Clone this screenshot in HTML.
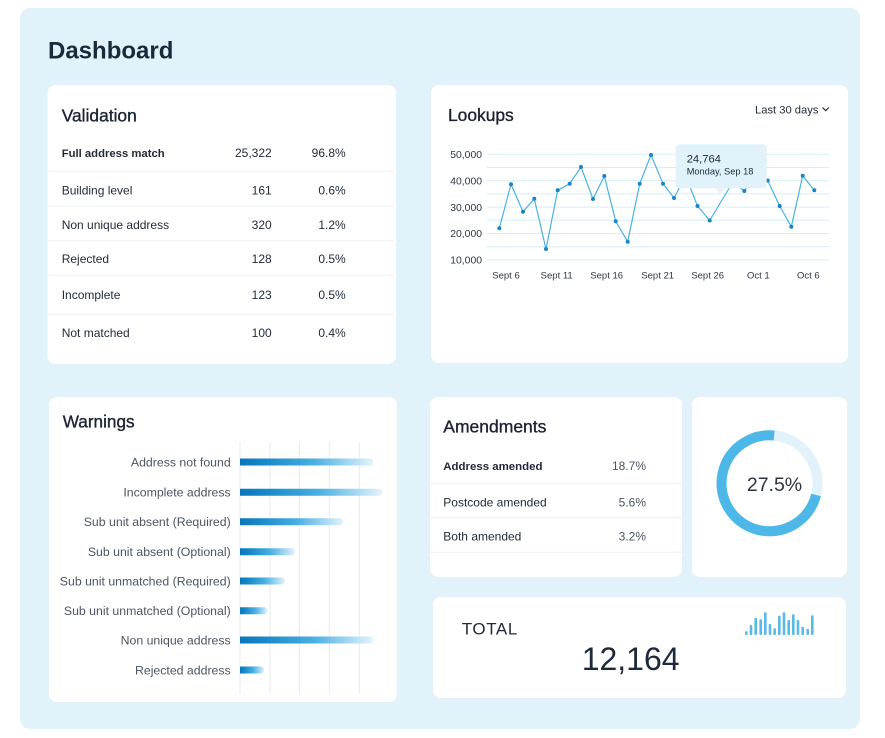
<!DOCTYPE html>
<html><head><meta charset="utf-8"><style>
html,body{margin:0;padding:0;background:#fff;width:885px;height:738px;overflow:hidden}
svg{display:block}
text{font-family:"Liberation Sans",Arial,sans-serif}
</style></head><body>
<svg width="885" height="738" viewBox="0 0 885 738" xmlns="http://www.w3.org/2000/svg">
<defs>
<linearGradient id="bg" x1="0" y1="0" x2="1" y2="0">
<stop offset="0" stop-color="#0a76ba"/>
<stop offset="0.18" stop-color="#1688c8"/>
<stop offset="0.55" stop-color="#48afe1"/>
<stop offset="1" stop-color="#e4f4fc"/>
</linearGradient>
</defs>
<rect x="0" y="0" width="885" height="738" fill="#ffffff"/>
<rect x="20" y="8" width="840" height="721" rx="10" fill="#e1f2fb"/>
<text x="48" y="58.6" font-size="24" font-weight="bold" fill="#1b2a3b">Dashboard</text>

<!-- Cards -->
<rect x="47.5" y="85" width="348.5" height="279" rx="8" fill="#fff"/>
<rect x="431" y="85" width="417" height="278" rx="8" fill="#fff"/>
<rect x="49" y="397" width="348" height="305" rx="8" fill="#fff"/>
<rect x="430" y="397" width="252" height="180" rx="8" fill="#fff"/>
<rect x="692" y="397" width="155" height="180" rx="8" fill="#fff"/>
<rect x="433" y="597" width="413" height="101" rx="8" fill="#fff"/>

<!-- Validation -->
<text x="61.7" y="121.5" font-size="17.4" fill="#1a2332" stroke="#1a2332" stroke-width="0.35">Validation</text>
<g stroke="#eef1f4" stroke-width="1">
<line x1="47.5" y1="171.3" x2="394" y2="171.3"/>
<line x1="47.5" y1="206" x2="394" y2="206"/>
<line x1="47.5" y1="240.7" x2="394" y2="240.7"/>
<line x1="47.5" y1="275.3" x2="394" y2="275.3"/>
<line x1="47.5" y1="314.3" x2="394" y2="314.3"/>
</g>
<g font-size="12" fill="#1f2937">
<text x="61.7" y="157" font-size="11.3" font-weight="bold">Full address match</text>
<text x="271.7" y="157" text-anchor="end">25,322</text>
<text x="345.7" y="157" text-anchor="end">96.8%</text>
<text x="61.7" y="194.5">Building level</text>
<text x="271.7" y="194.5" text-anchor="end">161</text>
<text x="345.7" y="194.5" text-anchor="end">0.6%</text>
<text x="61.7" y="228.8">Non unique address</text>
<text x="271.7" y="228.8" text-anchor="end">320</text>
<text x="345.7" y="228.8" text-anchor="end">1.2%</text>
<text x="61.7" y="263">Rejected</text>
<text x="271.7" y="263" text-anchor="end">128</text>
<text x="345.7" y="263" text-anchor="end">0.5%</text>
<text x="61.7" y="298.8">Incomplete</text>
<text x="271.7" y="298.8" text-anchor="end">123</text>
<text x="345.7" y="298.8" text-anchor="end">0.5%</text>
<text x="61.7" y="336.8">Not matched</text>
<text x="271.7" y="336.8" text-anchor="end">100</text>
<text x="345.7" y="336.8" text-anchor="end">0.4%</text>
</g>

<!-- Lookups -->
<text x="448" y="121" font-size="17.4" fill="#1a2332" stroke="#1a2332" stroke-width="0.35">Lookups</text>
<text x="755" y="113.3" font-size="11.2" fill="#1f2937">Last 30 days</text>
<polyline points="822.5,107.5 825.7,110.7 828.9,107.5" fill="none" stroke="#1f2937" stroke-width="1.1"/>
<g stroke="#d4edf6" stroke-width="1">
<line x1="487" y1="154.3" x2="829" y2="154.3"/>
<line x1="487" y1="167.5" x2="829" y2="167.5"/>
<line x1="487" y1="180.7" x2="829" y2="180.7"/>
<line x1="487" y1="193.9" x2="829" y2="193.9"/>
<line x1="487" y1="207.1" x2="829" y2="207.1"/>
<line x1="487" y1="220.3" x2="829" y2="220.3"/>
<line x1="487" y1="233.5" x2="829" y2="233.5"/>
<line x1="487" y1="246.7" x2="829" y2="246.7"/>
<line x1="487" y1="259.9" x2="829" y2="259.9"/>
</g>
<g font-size="10.4" fill="#2d3748" text-anchor="end">
<text x="482" y="158">50,000</text>
<text x="482" y="184.7">40,000</text>
<text x="482" y="211">30,000</text>
<text x="482" y="237">20,000</text>
<text x="482" y="263.4">10,000</text>
</g>
<g font-size="9.5" fill="#2d3748" text-anchor="middle">
<text x="506" y="278.4">Sept 6</text>
<text x="556.7" y="278.4">Sept 11</text>
<text x="606.7" y="278.4">Sept 16</text>
<text x="657.7" y="278.4">Sept 21</text>
<text x="707.7" y="278.4">Sept 26</text>
<text x="758.3" y="278.4">Oct 1</text>
<text x="808.3" y="278.4">Oct 6</text>
</g>
<polyline fill="none" stroke="#4ab3e2" stroke-width="1.2" stroke-linejoin="round" points="499.3,228.3 511,184.3 523,211.7 534.3,198.7 546,249 557.7,190.3 569.7,183.7 581,167 593,199 604.3,176 615.7,221.3 627.7,241.7 639.7,183.7 651,155 663,183.7 674,198 685.6,176 697.5,206 709.7,220.5 732.9,182 744.3,191 755.9,174 767.7,180.5 779.7,206 791.3,226.7 802.7,175.7 814.3,190.3"/>
<g fill="#1985c3">
<circle cx="499.3" cy="228.3" r="2"/><circle cx="511" cy="184.3" r="2"/><circle cx="523" cy="211.7" r="2"/><circle cx="534.3" cy="198.7" r="2"/><circle cx="546" cy="249" r="2"/><circle cx="557.7" cy="190.3" r="2"/><circle cx="569.7" cy="183.7" r="2"/><circle cx="581" cy="167" r="2"/><circle cx="593" cy="199" r="2"/><circle cx="604.3" cy="176" r="2"/><circle cx="615.7" cy="221.3" r="2"/><circle cx="627.7" cy="241.7" r="2"/><circle cx="639.7" cy="183.7" r="2"/><circle cx="651" cy="155" r="2"/><circle cx="663" cy="183.7" r="2"/><circle cx="674" cy="198" r="2"/><circle cx="697.5" cy="206" r="2"/><circle cx="709.7" cy="220.5" r="2"/><circle cx="744.3" cy="191" r="2"/><circle cx="767.7" cy="180.5" r="2"/><circle cx="779.7" cy="206" r="2"/><circle cx="791.3" cy="226.7" r="2"/><circle cx="802.7" cy="175.7" r="2"/><circle cx="814.3" cy="190.3" r="2"/>
</g>
<!-- tooltip -->
<rect x="675.7" y="144.3" width="91" height="44" rx="4" fill="#e1f2fb"/>
<polygon points="715,188.2 725,188.2 720,193.5" fill="#e1f2fb"/>
<text x="686.7" y="162.3" font-size="11.2" fill="#1f2937">24,764</text>
<text x="686.7" y="174.3" font-size="9.25" fill="#1f2937">Monday, Sep 18</text>

<!-- Warnings -->
<text x="62.7" y="427.3" font-size="17.2" fill="#1a2332" stroke="#1a2332" stroke-width="0.35">Warnings</text>
<g stroke="#e8eaed" stroke-width="1">
<line x1="240" y1="441.7" x2="240" y2="694"/>
<line x1="270" y1="441.7" x2="270" y2="694"/>
<line x1="299.3" y1="441.7" x2="299.3" y2="694"/>
<line x1="329.3" y1="441.7" x2="329.3" y2="694"/>
<line x1="359.3" y1="441.7" x2="359.3" y2="694"/>
</g>
<g fill="url(#bg)">
<path d="M240,458.5 H369.8 A3.5,3.5 0 0 1 369.8,465.5 H240 Z"/>
<path d="M240,488.8 H378.8 A3.5,3.5 0 0 1 378.8,495.8 H240 Z"/>
<path d="M240,518.2 H339.8 A3.5,3.5 0 0 1 339.8,525.2 H240 Z"/>
<path d="M240,548.2 H291.5 A3.5,3.5 0 0 1 291.5,555.2 H240 Z"/>
<path d="M240,577.5 H281.5 A3.5,3.5 0 0 1 281.5,584.5 H240 Z"/>
<path d="M240,607.2 H264.2 A3.5,3.5 0 0 1 264.2,614.2 H240 Z"/>
<path d="M240,636.5 H369.8 A3.5,3.5 0 0 1 369.8,643.5 H240 Z"/>
<path d="M240,666.5 H260.8 A3.5,3.5 0 0 1 260.8,673.5 H240 Z"/>
</g>
<g font-size="12.3" fill="#4b5563" text-anchor="end">
<text x="230.7" y="466.3">Address not found</text>
<text x="230.7" y="496.6">Incomplete address</text>
<text x="230.7" y="526">Sub unit absent (Required)</text>
<text x="230.7" y="556">Sub unit absent (Optional)</text>
<text x="230.7" y="585.3">Sub unit unmatched (Required)</text>
<text x="230.7" y="615">Sub unit unmatched (Optional)</text>
<text x="230.7" y="644.3">Non unique address</text>
<text x="230.7" y="674.3">Rejected address</text>
</g>

<!-- Amendments -->
<text x="443.3" y="432.7" font-size="17.5" fill="#1a2332" stroke="#1a2332" stroke-width="0.35">Amendments</text>
<g stroke="#eef1f4" stroke-width="1">
<line x1="430" y1="483.3" x2="682" y2="483.3"/>
<line x1="430" y1="517.7" x2="682" y2="517.7"/>
<line x1="430" y1="552.3" x2="682" y2="552.3"/>
</g>
<text x="443.3" y="470" font-size="11.45" font-weight="bold" fill="#1f2937">Address amended</text>
<text x="443.3" y="506.6" font-size="12" fill="#1f2937">Postcode amended</text>
<text x="443.3" y="540.3" font-size="12" fill="#1f2937">Both amended</text>
<g font-size="12" fill="#4b5563" text-anchor="end">
<text x="646" y="470">18.7%</text>
<text x="646" y="506.6">5.6%</text>
<text x="646" y="540.3">3.2%</text>
</g>

<!-- Donut -->
<circle cx="769.5" cy="483.3" r="48" fill="none" stroke="#e1f2fb" stroke-width="10"/>
<circle cx="769.5" cy="483.3" r="48" fill="none" stroke="#4db8e8" stroke-width="10" stroke-dasharray="218.7 400" transform="rotate(14 769.5 483.3)"/>
<text x="774.5" y="491" font-size="19.5" fill="#2d3440" text-anchor="middle">27.5%</text>

<!-- Total -->
<text x="461.7" y="634.3" font-size="17" letter-spacing="0.6" fill="#1e2939">TOTAL</text>
<text x="581.7" y="670" font-size="32" fill="#1e2939">12,164</text>
<g fill="#5ab9e6">
<rect x="745" y="631.3" width="2.6" height="3.7" rx="1"/>
<rect x="749.7" y="625" width="2.6" height="10" rx="1"/>
<rect x="754.4" y="617.7" width="2.6" height="17.3" rx="1"/>
<rect x="759.4" y="619.3" width="2.6" height="15.7" rx="1"/>
<rect x="764" y="612.3" width="2.6" height="22.7" rx="1"/>
<rect x="768.7" y="624" width="2.6" height="11" rx="1"/>
<rect x="773.4" y="628.3" width="2.6" height="6.7" rx="1"/>
<rect x="778" y="615.7" width="2.6" height="19.3" rx="1"/>
<rect x="782.7" y="612.3" width="2.6" height="22.7" rx="1"/>
<rect x="787.4" y="620" width="2.6" height="15" rx="1"/>
<rect x="792" y="614.3" width="2.6" height="20.7" rx="1"/>
<rect x="796.7" y="620" width="2.6" height="15" rx="1"/>
<rect x="801.4" y="626.7" width="2.6" height="8.3" rx="1"/>
<rect x="806.4" y="628.7" width="2.6" height="6.3" rx="1"/>
<rect x="811" y="615.3" width="2.6" height="19.7" rx="1"/>
</g>
</svg>
</body></html>
